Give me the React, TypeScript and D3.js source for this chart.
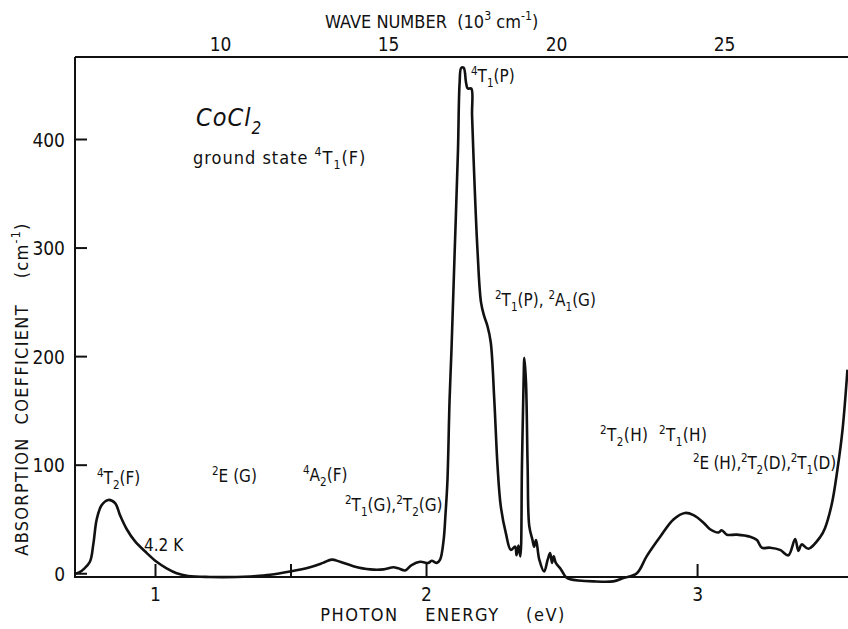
import React from "react";
import * as d3 from "d3";

const energy = [
  0.703, 0.72, 0.734, 0.758, 0.771, 0.783, 0.801, 0.826, 0.851, 0.869, 0.894, 0.924, 0.968, 1.004, 1.041, 1.078,
  1.12, 1.2, 1.3, 1.349, 1.423, 1.496, 1.57, 1.618, 1.65, 1.681, 1.73, 1.792, 1.841, 1.878, 1.896, 1.921, 1.945,
  1.976, 2.007, 2.019, 2.038, 2.05, 2.063, 2.07, 2.077, 2.085, 2.092, 2.104, 2.116, 2.122, 2.128, 2.137, 2.146,
  2.152, 2.165, 2.168, 2.177, 2.188, 2.201, 2.213, 2.225, 2.237, 2.25, 2.262, 2.274, 2.293, 2.311, 2.327, 2.332,
  2.339, 2.346, 2.352, 2.358, 2.361, 2.367, 2.373, 2.379, 2.391, 2.397, 2.404, 2.416, 2.434, 2.447, 2.456, 2.463,
  2.469, 2.477, 2.496, 2.514, 2.53, 2.616, 2.689, 2.726, 2.776, 2.812, 2.862, 2.911, 2.954, 2.985, 3.022, 3.046,
  3.077, 3.089, 3.108, 3.145, 3.194, 3.219, 3.237, 3.268, 3.304, 3.335, 3.36, 3.372, 3.384, 3.409, 3.453, 3.47,
  3.495, 3.516, 3.535, 3.553,
];
const absorption = [
  0, 1.5, 4, 11, 28, 50, 63, 68, 65, 54, 41, 30, 19, 11, 5, 0.5,
  -2, -3, -3, -2.5, -1, 2, 6, 10, 13, 11, 7, 4, 4, 6, 5, 3, 8,
  11, 10, 12, 10, 13, 31, 55, 85, 160, 206, 298, 390, 452, 466, 466, 452,
  447, 447, 422, 360, 298, 250, 237, 228, 213, 160, 99, 62, 37, 22, 25, 17,
  26, 16, 99, 176, 199, 176, 99, 44, 31, 25, 31, 13, 2, 13, 19, 10,
  16, 10, 4, -3, -5, -7, -7, -4, 0.5, 16, 34, 50, 56, 54, 47, 41,
  38, 40, 36, 36, 34, 31, 24, 24, 22, 17, 32, 21, 27, 23, 34, 42,
  64, 96, 133, 188,
];

const yTicks = [0, 100, 200, 300, 400];
const xTicks = [1, 1.5, 2, 3];
const xTickLabels = [1, 2, 3];
const waveTicks = [10, 15, 20, 25];

type Seg = [string, ("sup" | "sub")?];

const annotations: { x: number; y: number; size: number; segs: Seg[]; italic?: boolean; ls?: number }[] = [
  { x: 196, y: 126, size: 25, italic: true, ls: 1, segs: [["CoCl"], ["2", "sub"]] },
  { x: 193, y: 164, size: 18, ls: 1, segs: [["ground state "], ["4", "sup"], ["T"], ["1", "sub"], ["(F)"]] },
  { x: 471, y: 82, size: 17, segs: [["4", "sup"], ["T"], ["1", "sub"], ["(P)"]] },
  { x: 495, y: 306, size: 17, segs: [["2", "sup"], ["T"], ["1", "sub"], ["(P), "], ["2", "sup"], ["A"], ["1", "sub"], ["(G)"]] },
  { x: 600, y: 441, size: 17, ls: 0.4, segs: [["2", "sup"], ["T"], ["2", "sub"], ["(H)  "], ["2", "sup"], ["T"], ["1", "sub"], ["(H)"]] },
  { x: 693, y: 469, size: 17, ls: -0.2, segs: [["2", "sup"], ["E (H),"], ["2", "sup"], ["T"], ["2", "sub"], ["(D),"], ["2", "sup"], ["T"], ["1", "sub"], ["(D)"]] },
  { x: 97, y: 484, size: 17, segs: [["4", "sup"], ["T"], ["2", "sub"], ["(F)"]] },
  { x: 212, y: 482, size: 17, segs: [["2", "sup"], ["E (G)"]] },
  { x: 303, y: 481, size: 17, segs: [["4", "sup"], ["A"], ["2", "sub"], ["(F)"]] },
  { x: 345, y: 511, size: 17, segs: [["2", "sup"], ["T"], ["1", "sub"], ["(G),"], ["2", "sup"], ["T"], ["2", "sub"], ["(G)"]] },
  { x: 144, y: 551, size: 17, segs: [["4.2 K"]] },
];

const FONT = "'DejaVu Sans Condensed', 'Liberation Sans Narrow', sans-serif";

function Rich({ x, y, size, segs, italic, anchor, ls }: { x: number; y: number; size: number; segs: Seg[]; italic?: boolean; anchor?: string; ls?: number }) {
  let cur = 0;
  const children = segs.map(([t, k], i) => {
    const target = k === "sup" ? -0.42 * size : k === "sub" ? 0.3 * size : 0;
    const dy = target - cur;
    cur = target;
    return (
      <tspan key={i} dy={dy} fontSize={k ? size * 0.68 : size}>
        {t}
      </tspan>
    );
  });
  return (
    <text x={x} y={y} fontSize={size} fontFamily={FONT} fontStyle={italic ? "italic" : "normal"} textAnchor={anchor || "start"} fill="#111" letterSpacing={ls || 0} style={{ whiteSpace: "pre" }}>
      {children}
    </text>
  );
}

export default function App() {
  const W = 848, H = 629;
  const left = 75, right = 848, top = 57, bottom = 577;
  const x = d3.scaleLinear().domain([0.703, 3.555]).range([left, right]);
  const y = d3.scaleLinear().domain([-3, 476]).range([bottom, top]);
  const data = energy.map((e, i) => [e, absorption[i]] as [number, number]);
  const line = d3.line<[number, number]>().x((d) => x(d[0])).y((d) => y(d[1])).curve(d3.curveCatmullRom.alpha(0.5));
  const evFromWave = (k: number) => (k * 1000) / 8065.54;

  return (
    <svg width={W} height={H} style={{ position: "absolute", left: 0, top: 0, background: "#fff" }}>
      <defs>
        <clipPath id="plot">
          <rect x={left} y={top - 10} width={right - left + 2} height={bottom - top + 20} />
        </clipPath>
      </defs>
      <line x1={left} x2={left} y1={top} y2={bottom + 1} stroke="#111" strokeWidth={2} />
      <line x1={left} x2={right} y1={top} y2={top} stroke="#111" strokeWidth={2} />
      <line x1={left} x2={right} y1={bottom} y2={bottom} stroke="#111" strokeWidth={2} />
      {yTicks.map((t) => (
        <g key={t}>
          <line x1={left} x2={left + 12} y1={y(t)} y2={y(t)} stroke="#111" strokeWidth={2} />
          <text x={left - 10} y={y(t) + 7} fontSize={19} fontFamily={FONT} textAnchor="end" fill="#111">
            {t}
          </text>
        </g>
      ))}
      {xTicks.map((t) => (
        <line key={t} x1={x(t)} x2={x(t)} y1={bottom} y2={bottom - 13} stroke="#111" strokeWidth={2} />
      ))}
      {xTickLabels.map((t) => (
        <text key={t} x={x(t)} y={601} fontSize={19} fontFamily={FONT} textAnchor="middle" fill="#111">
          {t}
        </text>
      ))}
      {waveTicks.map((t) => (
        <text key={t} x={x(evFromWave(t))} y={51} fontSize={19} fontFamily={FONT} textAnchor="middle" fill="#111">
          {t}
        </text>
      ))}
      <Rich x={325} y={28} size={18} segs={[["WAVE NUMBER  (10"], ["3", "sup"], [" cm"], ["-1", "sup"], [")"]]} />
      <text x={443} y={621} fontSize={18} fontFamily={FONT} textAnchor="middle" fill="#111" style={{ whiteSpace: "pre" }} letterSpacing={1.5}>
        {"PHOTON    ENERGY    (eV)"}
      </text>
      <g transform="translate(28,389) rotate(-90)">
        <Rich x={0} y={0} size={18} ls={1.3} anchor="middle" segs={[["ABSORPTION  COEFFICIENT    (cm"], ["-1", "sup"], [")"]]} />
      </g>
      <path d={line(data) || ""} fill="none" stroke="#111" strokeWidth={2.6} strokeLinejoin="round" clipPath="url(#plot)" />
      {annotations.map((a, i) => (
        <Rich key={i} {...a} />
      ))}
    </svg>
  );
}
